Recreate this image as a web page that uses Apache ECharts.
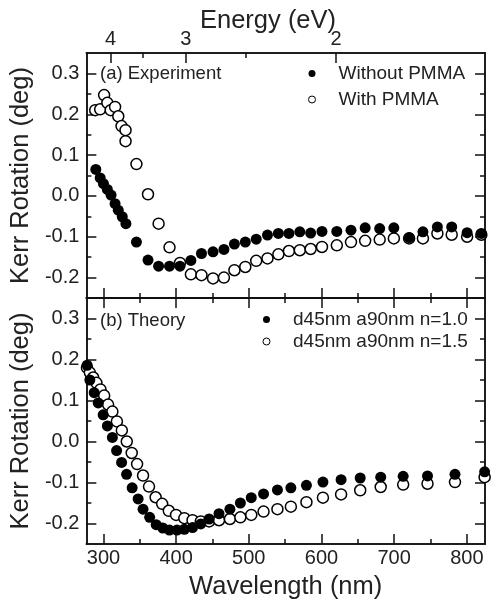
<!DOCTYPE html>
<html><head><meta charset="utf-8">
<script src="https://cdn.jsdelivr.net/npm/echarts@6/dist/echarts.min.js"></script>
<style>html,body{margin:0;padding:0;background:#fff}#c{width:493px;height:602px}</style>
</head><body><div id="c"></div>
<script>
// ---- data ----
const expWithoutWl  = [289.5,295.5,300,305.4,310.5,316,320.4,325.9,330.9,345.4,361.3,375.9,390.9,405.3,420.3,434.9,450.8,465.8,480.2,495.2,510.2,525.7,540.7,555.2,570.2,585.1,600.7,621.1,640.6,660.1,680.1,699.6,720.6,739.6,759.5,779.2,800.4,820];
const expWithoutVal = [0.065,0.044,0.030,0.016,0.002,-0.019,-0.035,-0.051,-0.068,-0.113,-0.157,-0.172,-0.172,-0.172,-0.158,-0.141,-0.137,-0.131,-0.118,-0.113,-0.106,-0.096,-0.092,-0.092,-0.088,-0.091,-0.087,-0.087,-0.084,-0.078,-0.080,-0.078,-0.102,-0.088,-0.076,-0.076,-0.090,-0.092];
const expWithWl  = [288.7,295.5,300.9,305.4,310,316,320.4,324.9,330.4,330.4,345.4,361.3,375.9,390.9,405.3,420.3,434.9,450.8,465.8,480.2,495.2,510.2,525.7,540.7,555.2,570.2,585.1,600.7,621.1,640.6,660.1,680.1,699.6,720.6,739.6,759.5,779.2,800.4,820];
const expWithVal = [0.210,0.212,0.247,0.228,0.210,0.218,0.195,0.171,0.161,0.134,0.078,0.004,-0.068,-0.126,-0.164,-0.192,-0.194,-0.202,-0.200,-0.182,-0.174,-0.159,-0.153,-0.143,-0.135,-0.133,-0.130,-0.125,-0.121,-0.113,-0.110,-0.107,-0.104,-0.104,-0.104,-0.092,-0.095,-0.100,-0.095];
const thN10Wl  = [277.5,281.3,287.3,292.8,299.6,305.4,312.3,318.1,325,331.8,339.5,347.7,354.5,363.6,372.6,381.7,390.9,401.2,411.3,422.6,433.9,445.4,459,474,488.4,503.4,520.3,539.4,557.9,579.3,602,627,653.3,681.5,712.4,745.9,783.7,824.5];
const thN10Val = [0.186,0.150,0.119,0.094,0.065,0.038,0.010,-0.022,-0.051,-0.080,-0.113,-0.140,-0.165,-0.185,-0.203,-0.211,-0.216,-0.216,-0.214,-0.210,-0.201,-0.189,-0.176,-0.165,-0.150,-0.137,-0.128,-0.118,-0.113,-0.107,-0.099,-0.093,-0.089,-0.087,-0.085,-0.084,-0.080,-0.074];
const thN15Wl  = [277.3,281.3,285.9,290.3,295.9,301,306.4,312.3,318.5,325.3,332.1,338.9,346.3,354.5,362.7,371.8,380.8,389.9,399.9,411.3,422.6,433.9,445.4,459,474,488.4,503.4,520.3,539.4,557.9,579.3,602,627,653.3,681.5,712.4,745.9,783.7,824.5];
const thN15Val = [0.180,0.168,0.156,0.143,0.127,0.112,0.090,0.073,0.049,0.027,0.000,-0.028,-0.055,-0.083,-0.110,-0.136,-0.152,-0.169,-0.179,-0.187,-0.192,-0.195,-0.195,-0.192,-0.189,-0.185,-0.179,-0.171,-0.165,-0.159,-0.148,-0.137,-0.129,-0.119,-0.111,-0.105,-0.103,-0.099,-0.087];

const wlMajorTicks = [300,400,500,600,700,800];
const wlMinorTicks = [350,450,550,650,750];
const energyMajorTicks = [4,3,2];
const energyMinorTicks = [3.5,2.5];
const yMajorTicks = [-0.2,-0.1,0.0,0.1,0.2,0.3];
const yMinorTicks = [-0.15,-0.05,0.05,0.15,0.25];

const seriesNames = ['Without PMMA','With PMMA','d45nm a90nm n=1.0','d45nm a90nm n=1.5'];
const panelLabels = ['(a) Experiment','(b) Theory'];

// ---- chart ----
const HC = 1239.84;
const FONT = '"Liberation Sans", Arial, sans-serif';
const LINE = '#111';
const TXT = '#222';
const WL_MIN = 276.5, WL_MAX = 825;
const Y_MIN = -0.25, Y_MAX = 0.35;
const zip = (a,b) => a.map((v,i)=>[v,b[i]]);

function xAx(grid, pos, ticks, len, labels, fmt, extra) {
  return Object.assign({
    type:'value', gridIndex:grid, position:pos, min:WL_MIN, max:WL_MAX,
    axisLine:{show:true,onZero:false,lineStyle:{color:LINE,width:1.5}},
    axisTick:{show:true,inside:true,length:len,customValues:ticks,lineStyle:{color:LINE,width:1.5}},
    axisLabel: labels ? {show:true,customValues:labels,formatter:fmt,fontSize:20,color:TXT,fontFamily:FONT,margin:4} : {show:false},
    splitLine:{show:false}
  }, extra||{});
}
function yAx(grid, pos, ticks, len, labels, extra) {
  return Object.assign({
    type:'value', gridIndex:grid, position:pos, min:Y_MIN, max:Y_MAX,
    axisLine:{show:true,onZero:false,lineStyle:{color:LINE,width:1.5}},
    axisTick:{show:true,inside:true,length:len,customValues:ticks,lineStyle:{color:LINE,width:1.5}},
    axisLabel: labels ? {show:true,customValues:labels,formatter:v=>v.toFixed(1),fontSize:20,color:TXT,fontFamily:FONT,margin:7} : {show:false},
    splitLine:{show:false}
  }, extra||{});
}
const yName = {name:'Kerr Rotation (deg)',nameLocation:'middle',nameGap:42,
  nameTextStyle:{fontSize:25.5,color:TXT,fontFamily:FONT}};

const xAxes = [
  xAx(0,'bottom',wlMinorTicks,5),
  xAx(0,'bottom',wlMajorTicks,10),
  xAx(0,'top',energyMajorTicks.map(e=>HC/e),10,energyMajorTicks.map(e=>HC/e),v=>String(Math.round(HC/v))),
  xAx(0,'top',energyMinorTicks.map(e=>HC/e),5),
  xAx(1,'top',wlMinorTicks,5),
  xAx(1,'top',wlMajorTicks,10),
  xAx(1,'bottom',wlMinorTicks,5),
  xAx(1,'bottom',wlMajorTicks,10,wlMajorTicks,v=>String(v),
      {name:'Wavelength (nm)',nameLocation:'middle',nameGap:30,nameTextStyle:{fontSize:25.5,color:TXT,fontFamily:FONT}})
];
const yAxes = [
  yAx(0,'left',yMinorTicks,5),
  yAx(0,'left',yMajorTicks,10,yMajorTicks,yName),
  yAx(0,'right',yMinorTicks,5),
  yAx(0,'right',yMajorTicks,10),
  yAx(1,'left',yMinorTicks,5),
  yAx(1,'left',yMajorTicks,10,yMajorTicks,yName),
  yAx(1,'right',yMinorTicks,5),
  yAx(1,'right',yMajorTicks,10)
];

const filled = {color:'#000',opacity:1};
const open = {color:'#fff',borderColor:'#000',borderWidth:1.5,opacity:1};
function sc(name, xi, yi, data, style, z) {
  return {type:'scatter',name,xAxisIndex:xi,yAxisIndex:yi,data,symbol:'circle',symbolSize:11,
    itemStyle:style,z,emphasis:{disabled:true},animation:false};
}

const legendText = {fontSize:19,color:TXT,fontFamily:FONT,padding:[0,0,0,18]};
const legFilled = n => ({name:n,icon:'circle',itemStyle:{color:'#000',borderWidth:0}});
const legOpen = n => ({name:n,icon:'circle',itemStyle:{color:'#fff',borderColor:'#000',borderWidth:1}});
const option = {
  animation:false,
  backgroundColor:'#fff',
  grid:[
    {left:83,top:53,width:402,height:245},
    {left:83,top:298,width:402,height:246}
  ],
  xAxis:xAxes,
  yAxis:yAxes,
  title:[
    {text:'Energy (eV)',left:200,top:8,textStyle:{fontSize:25.5,fontWeight:'normal',color:TXT,fontFamily:FONT},padding:0},
    {text:panelLabels[0],left:100,top:64,textStyle:{fontSize:18.5,fontWeight:'normal',color:TXT,fontFamily:FONT},padding:0},
    {text:panelLabels[1],left:100,top:311,textStyle:{fontSize:18.5,fontWeight:'normal',color:TXT,fontFamily:FONT},padding:0}
  ],
  legend:[
    {data:[legFilled(seriesNames[0]),legOpen(seriesNames[1])],
     orient:'vertical',left:308,top:64,itemWidth:7,itemHeight:7,itemGap:7,padding:0,textStyle:legendText,selectedMode:false},
    {data:[legFilled(seriesNames[2]),legOpen(seriesNames[3])],
     orient:'vertical',left:262.5,top:310,itemWidth:7,itemHeight:7,itemGap:3,padding:0,textStyle:legendText,selectedMode:false}
  ],
  series:[
    sc(seriesNames[1],0,0,zip(expWithWl,expWithVal),open,2),
    sc(seriesNames[0],0,0,zip(expWithoutWl,expWithoutVal),filled,3),
    sc(seriesNames[3],6,4,zip(thN15Wl,thN15Val),open,2),
    sc(seriesNames[2],6,4,zip(thN10Wl,thN10Val),filled,3)
  ]
};
const chart = echarts.init(document.getElementById('c'),null,{renderer:'canvas'});
chart.setOption(option);
</script>
</body></html>
